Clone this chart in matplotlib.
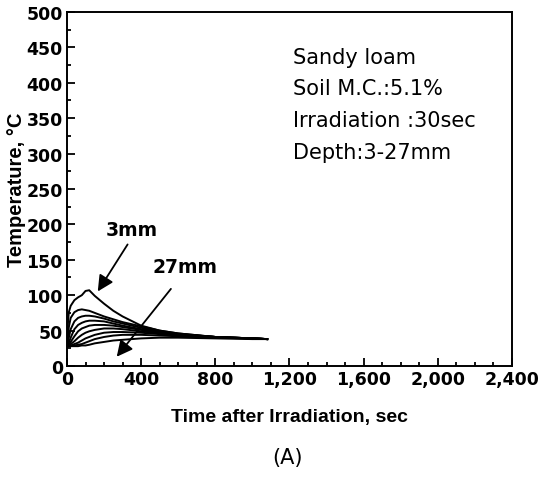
import matplotlib
matplotlib.use("Agg")
import matplotlib.pyplot as plt
from matplotlib.ticker import MultipleLocator, FuncFormatter

times = [0, 5, 10, 20, 40, 60, 80, 100, 120, 150, 200, 250, 300, 400, 500, 600, 800, 1000, 1080]
depth_labels = ["3mm", "6mm", "9mm", "12mm", "15mm", "18mm", "21mm", "24mm", "27mm"]
temp_3 = [28, 60, 76, 85, 93, 97, 100, 106, 107, 99, 88, 78, 70, 57, 50, 46, 41, 39, 38]
temp_6 = [28, 40, 55, 68, 76, 79, 80, 79, 78, 75, 70, 66, 62, 56, 50, 46, 41, 39, 38]
temp_9 = [28, 33, 40, 52, 63, 68, 70, 71, 71, 70, 67, 63, 60, 54, 49, 45, 41, 39, 38]
temp_12 = [28, 30, 33, 40, 52, 58, 61, 63, 64, 64, 63, 60, 57, 52, 48, 45, 41, 39, 38]
temp_15 = [28, 29, 30, 34, 42, 49, 53, 55, 57, 58, 58, 57, 55, 51, 47, 44, 41, 39, 38]
temp_18 = [28, 28, 29, 31, 35, 40, 44, 47, 49, 51, 53, 53, 52, 49, 46, 44, 41, 39, 38]
temp_21 = [28, 28, 28, 29, 31, 33, 36, 39, 41, 44, 47, 48, 48, 47, 45, 43, 40, 39, 38]
temp_24 = [28, 28, 28, 28, 29, 30, 31, 33, 35, 38, 41, 43, 44, 44, 43, 42, 40, 39, 38]
temp_27 = [28, 28, 28, 28, 28, 28, 29, 29, 30, 32, 34, 36, 37, 39, 40, 40, 39, 38, 38]
series = [temp_3, temp_6, temp_9, temp_12, temp_15, temp_18, temp_21, temp_24, temp_27]
info_lines = ["Sandy loam", "Soil M.C.:5.1%", "Irradiation :30sec", "Depth:3-27mm"]

plt.rcParams['font.family'] = ['DejaVu Sans']

fig = plt.figure(figsize=(5.38, 4.81), dpi=100)
ax = fig.add_axes([0.1245, 0.237, 0.827, 0.736])

for s in series:
    ax.plot(times, s, color='black', lw=1.4)

ax.set_xlim(0, 2400)
ax.set_ylim(0, 500)
ax.xaxis.set_major_locator(MultipleLocator(400))
ax.xaxis.set_minor_locator(MultipleLocator(100))
ax.yaxis.set_major_locator(MultipleLocator(50))
ax.yaxis.set_minor_locator(MultipleLocator(25))
ax.xaxis.set_major_formatter(FuncFormatter(lambda v, p: f"{int(v):,}"))
ax.tick_params(which='both', direction='in', top=False, right=False, width=1.3, colors='black')
ax.tick_params(which='major', length=6, labelsize=12.5, pad=3)
ax.tick_params(which='minor', length=3)
for lab in ax.get_xticklabels() + ax.get_yticklabels():
    lab.set_fontweight('bold')
for sp in ax.spines.values():
    sp.set_linewidth(1.4)

lab_font = ['Liberation Sans', 'DejaVu Sans']
ax.set_xlabel("Time after Irradiation, sec", fontsize=14, fontweight='bold',
              family=lab_font, labelpad=14)
ax.set_ylabel("Temperature, °C", fontsize=14.5, fontweight='bold',
              family=lab_font, labelpad=0)

for i, line in enumerate(info_lines):
    ax.text(0.508, 0.874 - i * 0.0895, line, transform=ax.transAxes, fontsize=15,
            va='center', ha='left')

ax.annotate("", xy=(158, 102), xytext=(335, 175),
            arrowprops=dict(arrowstyle='-|>', color='black', lw=1.3, mutation_scale=24))
ax.text(350, 193, "3mm", fontsize=13.5, fontweight='bold', ha='center', va='center')

ax.annotate("", xy=(259, 10), xytext=(570, 112),
            arrowprops=dict(arrowstyle='-|>', color='black', lw=1.3, mutation_scale=24))
ax.text(635, 140, "27mm", fontsize=13.5, fontweight='bold', ha='center', va='center')

fig.text(0.535, 0.048, "(A)", fontsize=15, ha='center', va='center')

fig.savefig("out.png", dpi=100)
